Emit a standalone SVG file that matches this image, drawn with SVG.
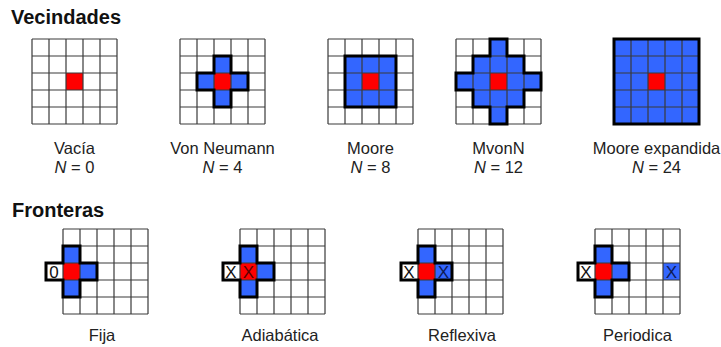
<svg xmlns="http://www.w3.org/2000/svg" xmlns:xlink="http://www.w3.org/1999/xlink" width="721" height="347" viewBox="0 0 721 347">
<style>
.title{font-family:"Liberation Sans",Arial,sans-serif;font-weight:bold;font-size:20px;fill:#111}
.lbl{font-family:"Liberation Sans",Arial,sans-serif;font-size:16.5px;fill:#222;text-anchor:middle}
.cx{font-family:"Liberation Sans",Arial,sans-serif;font-size:17px;fill:#111;text-anchor:middle}
.b{fill:#3366ff}
.r{fill:#ff0000}
.w{fill:#ffffff}
.grid{fill:none;stroke:#3a3a3a;stroke-width:1.2}
.thick{fill:none;stroke:#000;stroke-width:3;stroke-linejoin:miter}
</style>
<defs>
<path id="grid" class="grid" d="M0 0H85M0 17H85M0 34H85M0 51H85M0 68H85M0 85H85M0 0V85M17 0V85M34 0V85M51 0V85M68 0V85M85 0V85"/>
<path id="crossC" d="M34 17H51V34H68V51H51V68H34V51H17V34H34Z"/>
<path id="crossL" d="M0 17H17V34H34V51H17V68H0V51H-17V34H0Z"/>
</defs>
<rect width="721" height="347" fill="#ffffff"/>
<text class="title" x="11" y="24">Vecindades</text>
<text class="title" x="12" y="216.5">Fronteras</text>

<g id="vacia" transform="translate(32,39)">
<rect class="r" x="34" y="34" width="17" height="17"/>
<use xlink:href="#grid"/>
<text class="lbl" x="42.5" y="115">Vacía</text>
<text class="lbl" x="42.5" y="134"><tspan font-style="italic">N</tspan> = 0</text>
</g>

<g id="vonneumann" transform="translate(180,39)">
<use xlink:href="#crossC" class="b"/>
<rect class="r" x="34" y="34" width="17" height="17"/>
<use xlink:href="#grid"/>
<use xlink:href="#crossC" class="thick"/>
<text class="lbl" x="42.5" y="115">Von Neumann</text>
<text class="lbl" x="42.5" y="134"><tspan font-style="italic">N</tspan> = 4</text>
</g>

<g id="moore" transform="translate(328,39)">
<rect class="b" x="17" y="17" width="51" height="51"/>
<rect class="r" x="34" y="34" width="17" height="17"/>
<use xlink:href="#grid"/>
<rect class="thick" x="17" y="17" width="51" height="51"/>
<text class="lbl" x="42.5" y="115">Moore</text>
<text class="lbl" x="42.5" y="134"><tspan font-style="italic">N</tspan> = 8</text>
</g>

<g id="mvonn" transform="translate(456,39)">
<path class="b" d="M34 0H51V17H68V34H85V51H68V68H51V85H34V68H17V51H0V34H17V17H34Z"/>
<rect class="r" x="34" y="34" width="17" height="17"/>
<use xlink:href="#grid"/>
<path class="thick" d="M34 0H51V17H68V34H85V51H68V68H51V85H34V68H17V51H0V34H17V17H34Z"/>
<text class="lbl" x="42.5" y="115">MvonN</text>
<text class="lbl" x="42.5" y="134"><tspan font-style="italic">N</tspan> = 12</text>
</g>

<g id="moore-expandida" transform="translate(614,39)">
<rect class="b" x="0" y="0" width="85" height="85"/>
<rect class="r" x="34" y="34" width="17" height="17"/>
<use xlink:href="#grid" style="stroke:#1c2a66"/>
<rect class="thick" x="0" y="0" width="85" height="85"/>
<text class="lbl" x="42.5" y="115">Moore expandida</text>
<text class="lbl" x="42.5" y="134"><tspan font-style="italic">N</tspan> = 24</text>
</g>

<g id="fija" transform="translate(63,229)">
<use xlink:href="#crossL" class="b"/>
<rect class="w" x="-17" y="34" width="17" height="17"/>
<rect class="r" x="0" y="34" width="17" height="17"/>
<use xlink:href="#grid"/>
<use xlink:href="#crossL" class="thick"/>
<text class="cx" x="-9" y="49">0</text>
<text class="lbl" x="39" y="112">Fija</text>
</g>

<g id="adiabatica" transform="translate(240,229)">
<use xlink:href="#crossL" class="b"/>
<rect class="w" x="-17" y="34" width="17" height="17"/>
<rect class="r" x="0" y="34" width="17" height="17"/>
<use xlink:href="#grid"/>
<use xlink:href="#crossL" class="thick"/>
<text class="cx" x="-9" y="49">X</text>
<text class="cx" x="8.5" y="49" style="fill:#5a0000">X</text>
<text class="lbl" x="40" y="112">Adiabática</text>
</g>

<g id="reflexiva" transform="translate(418,229)">
<use xlink:href="#crossL" class="b"/>
<rect class="w" x="-17" y="34" width="17" height="17"/>
<rect class="r" x="0" y="34" width="17" height="17"/>
<use xlink:href="#grid"/>
<use xlink:href="#crossL" class="thick"/>
<text class="cx" x="-9" y="49">X</text>
<text class="cx" x="25.5" y="49" style="fill:#0d1a55">X</text>
<text class="lbl" x="44" y="112">Reflexiva</text>
</g>

<g id="periodica" transform="translate(595,229)">
<use xlink:href="#crossL" class="b"/>
<rect class="w" x="-17" y="34" width="17" height="17"/>
<rect class="r" x="0" y="34" width="17" height="17"/>
<rect class="b" x="68" y="34" width="17" height="17"/>
<use xlink:href="#grid"/>
<use xlink:href="#crossL" class="thick"/>
<text class="cx" x="-9" y="49">X</text>
<text class="cx" x="76.5" y="49" style="fill:#0d1a55">X</text>
<text class="lbl" x="42.5" y="112">Periodica</text>
</g>
</svg>
